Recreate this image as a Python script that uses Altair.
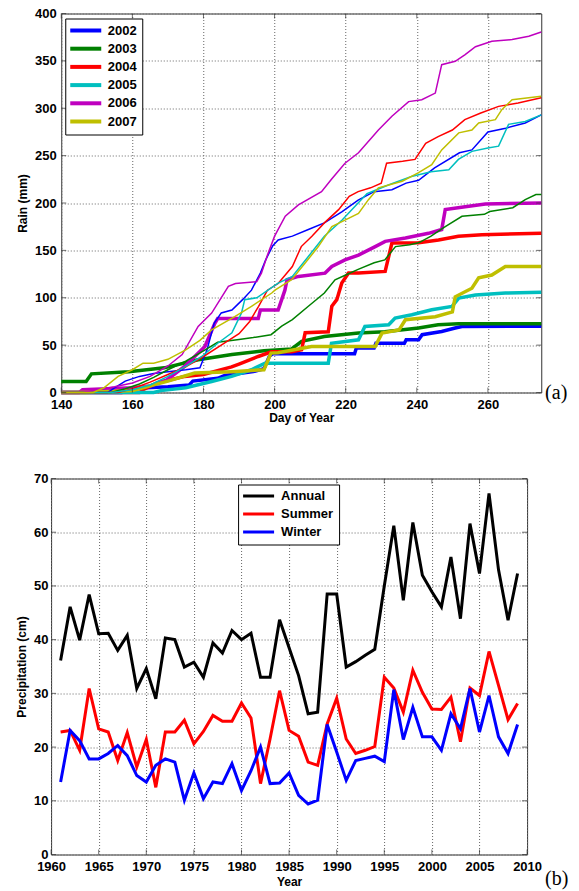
import altair as alt
import pandas as pd

# ---------------- panel (a): cumulative rain ----------------
YEARS = ["2002", "2003", "2004", "2005", "2006", "2007"]
COLORS = ["#0000FF", "#008000", "#FF0000", "#00BFBF", "#BF00BF", "#BFBF00"]
DAY_TICKS = [140, 160, 180, 200, 220, 240, 260]
RAIN_TICKS = [0, 50, 100, 150, 200, 250, 300, 350, 400]

THIN_2002 = [(140, 0), (153, 0), (155, 5), (158, 12), (162, 17), (166, 20), (170, 22), (175, 24),
             (179, 26), (181, 45), (183, 73), (185, 84), (188, 87), (191, 98), (193.5, 108), (196, 126),
             (197.5, 140), (199.5, 155), (201, 161), (205, 165), (209.5, 172), (214, 179), (219, 191),
             (223.5, 203), (228, 212), (233, 214), (237, 221), (240.5, 224), (245, 237), (252, 253),
             (255.5, 256), (260, 275), (265, 279), (270.5, 284.5), (275, 293)]
THIN_2003 = [(140, 0), (154, 0), (158, 4), (162, 9), (166, 16), (170, 24), (175, 33), (180, 44),
             (184, 53), (190, 56), (194, 58), (199, 61), (202, 70), (205, 77), (209.5, 91), (214, 105),
             (217, 119), (220, 124), (223.5, 130), (228, 137), (231, 140), (234, 154), (238, 156),
             (240.5, 158), (244, 165), (248, 175), (252.7, 186), (259, 188), (260.5, 191), (267, 195),
             (270.5, 203.5), (273.5, 209), (275, 209)]
THIN_2004 = [(140, 0), (156, 0), (160, 4), (165, 11), (170, 19), (175, 27), (180, 38), (185, 50),
             (190, 62), (193, 75), (195.5, 91), (198, 108), (201, 115), (205, 133), (207.5, 154),
             (210.5, 165), (214, 179), (218, 193), (221, 207), (223.5, 212), (227, 216), (230, 221),
             (231.5, 242), (236, 244), (239.5, 246), (242.5, 263), (246, 270), (250, 277), (253.5, 288),
             (258, 295), (263, 302), (268.5, 305.5), (275, 311)]
THIN_2005 = [(140, 0), (154, 0), (160, 3), (165, 8), (170, 17), (175, 27.5), (179.5, 38), (184, 52),
             (188, 63), (190.7, 84), (191.6, 98), (195, 100), (201, 115.5), (205, 122.5), (209.5, 143.6),
             (214, 165), (219, 182), (223.5, 200), (226, 210), (228, 213), (232, 219), (238.5, 228),
             (244, 233), (249, 235), (251.7, 246), (255.5, 254.5), (260, 258), (263, 260), (265.8, 283),
             (270.5, 286), (275, 293)]
THIN_2006 = [(140, 0), (146, 0), (150, 3), (155, 6), (160, 10), (165, 17), (170, 28), (174, 40),
             (178.5, 69.7), (182.3, 83.8), (187, 112), (189, 115), (195, 117), (196.3, 126), (198, 145),
             (200, 165), (203, 186), (206.7, 198), (213.2, 212), (216, 225), (219.8, 242), (223.6, 253),
             (229.2, 277), (233, 291.5), (237.7, 307), (241.4, 309), (245.2, 316), (247, 346),
             (250.8, 349.5), (253.6, 356.6), (256.5, 365), (261.1, 370.6), (266.8, 372.5), (271.5, 376),
             (275, 380.5)]
THIN_2007 = [(140, 0), (149, 0), (152, 5), (156, 17), (160, 24), (163, 31), (166, 31), (170, 35),
             (175, 45), (179, 55), (182.3, 66), (188.8, 80), (193.5, 91), (199.2, 105), (200.1, 108),
             (204.8, 119), (208.6, 136.6), (212.3, 154), (216.1, 175), (219.8, 182), (223.6, 189),
             (226.4, 203.5), (229.2, 216), (235.9, 223), (240.5, 232), (244.2, 240.4), (247, 256),
             (251.8, 274), (255.5, 277), (257.4, 284.5), (262.1, 288), (263.9, 298.5), (266.8, 309),
             (275, 312.6)]

THICK_2002 = [(140, 0), (157, 0), (158, 3), (164, 5), (170, 6), (176, 8), (177, 12), (184, 15),
              (186, 18), (190, 20), (194, 22), (197, 25), (198.5, 38), (199.5, 41), (222.5, 41),
              (223, 47), (228, 47), (228.5, 52), (236.5, 52), (237, 55.6), (240.5, 55.6), (241.5, 61),
              (247, 64.4), (250.8, 68), (252.7, 69.7), (275, 70)]
THICK_2003 = [(140, 11.6), (147, 11.6), (148.5, 19.7), (159, 22), (169, 26), (178.5, 34.5), (188, 40),
              (197, 44), (204.8, 46), (207.6, 54), (214, 59), (223.6, 62.7), (231, 64), (240.5, 68),
              (246, 71.5), (251.7, 72.5), (275, 72.5)]
THICK_2004 = [(140, 0), (162, 0), (163, 3), (167, 10), (174.7, 17), (180, 19), (187.9, 27), (190, 30),
              (195.4, 38), (199.1, 43), (204.8, 43), (207.6, 45), (208.6, 63), (215.1, 64), (216.1, 91),
              (217.5, 98), (218.9, 115.5), (220.8, 126), (223.6, 126), (231.1, 127.8), (233, 157.8),
              (240.5, 158), (246.1, 161), (251.7, 165), (258.3, 166.5), (275, 168)]
THICK_2005 = [(140, 0), (166, 0), (168, 2), (175, 5), (182.3, 11.6), (187.9, 17), (193.5, 24),
              (197.3, 31), (215.1, 31), (216, 52), (223.6, 55.6), (225.4, 69.7), (232.1, 71.5),
              (233.9, 78.6), (238.6, 82), (244.2, 87.3), (249.9, 90.8), (251.8, 99.7), (256.5, 103),
              (264.9, 105), (275, 105.7)]
THICK_2006 = [(140, 0), (145, 0), (146, 3), (160, 5), (165, 7), (169.6, 13), (174.7, 27.5),
              (180.4, 48.6), (183.2, 73), (184, 78), (195.4, 78), (196, 87), (201, 87), (202.9, 108),
              (203.5, 119), (206.7, 122.5), (214.2, 126), (216.1, 133), (219.8, 140), (223.6, 145),
              (228.3, 154), (231.1, 159.5), (236.8, 163), (243.3, 168), (247, 172), (248, 193),
              (253.6, 196), (259.3, 199), (275, 200)]
THICK_2007 = [(140, 0), (147, 0), (160, 2), (163, 5), (166, 8), (170, 12), (177.5, 20.5), (188, 22),
              (197, 24), (199, 41.6), (201, 42), (210.4, 48.6), (228.3, 48.6), (230.2, 62.7), (235, 66),
              (236.8, 76.8), (245.2, 80), (250, 85), (250.8, 101), (255.5, 110), (257.4, 121),
              (261.1, 124), (264.9, 133), (275, 133)]

THIN = [THIN_2002, THIN_2003, THIN_2004, THIN_2005, THIN_2006, THIN_2007]
THICK = [THICK_2002, THICK_2003, THICK_2004, THICK_2005, THICK_2006, THICK_2007]

# ---------------- panel (b): precipitation ----------------
PREC_YEARS = list(range(1961, 2010))
ANNUAL = [36.1, 46.1, 39.9, 48.4, 41.1, 41.2, 38.0, 40.8, 30.9, 34.6,
          29.0, 40.3, 40.0, 34.9, 35.8, 33.0, 39.4, 37.5, 41.7, 40.0,
          41.2, 33.0, 33.0, 43.7, 38.5, 33.3, 26.2, 26.5, 48.5, 48.5,
          34.9, 35.9, 37.1, 38.2, 50.0, 61.2, 47.3, 61.8, 52.0, 48.9,
          46.1, 55.4, 43.9, 61.6, 52.3, 67.2, 53.0, 43.6, 52.3]
SUMMER = [22.8, 23.1, 19.4, 30.9, 23.4, 22.8, 17.5, 22.7, 16.3, 21.4,
          12.5, 22.8, 22.8, 25.0, 20.6, 22.9, 25.9, 24.8, 24.8, 28.2,
          25.4, 13.2, 21.5, 30.5, 23.1, 22.0, 17.2, 16.6, 24.3, 29.1,
          21.5, 18.8, 19.4, 20.1, 33.0, 31.0, 26.5, 34.3, 30.2, 27.1,
          27.0, 29.3, 21.0, 31.0, 29.6, 37.8, 31.5, 25.1, 28.1]
WINTER = [13.5, 23.1, 21.2, 17.8, 17.8, 18.8, 20.3, 18.4, 14.7, 13.5,
          16.6, 17.8, 17.2, 10.1, 15.2, 10.4, 13.5, 13.2, 16.9, 11.9,
          15.6, 20.0, 13.2, 13.3, 15.2, 11.0, 9.4, 10.1, 24.2, 19.1,
          13.8, 17.5, 17.9, 18.3, 17.3, 30.7, 21.4, 27.4, 21.9, 21.9,
          19.4, 26.2, 23.4, 30.9, 22.8, 29.6, 21.9, 18.8, 24.2]
PREC_SERIES = ["Annual", "Summer", "Winter"]
PREC_COLORS = ["#000000", "#FF0000", "#0000FF"]
YEAR_TICKS = [1960, 1965, 1970, 1975, 1980, 1985, 1990, 1995, 2000, 2005, 2010]
PREC_TICKS = [0, 10, 20, 30, 40, 50, 60, 70]

FONT = "Liberation Sans"
FRAME = "#333333"
TICK_LEN = 5


def gauge_frame(series_list, gauge):
    rows = []
    for yr, pts in zip(YEARS, series_list):
        for d, v in pts:
            rows.append({"day": d, "mm": v, "year": yr, "gauge": gauge})
    return pd.DataFrame(rows)


top_df = pd.concat([gauge_frame(THICK, "thick"), gauge_frame(THIN, "thin")], ignore_index=True)

prec_rows = []
for name, vals in zip(PREC_SERIES, [ANNUAL, SUMMER, WINTER]):
    for y, v in zip(PREC_YEARS, vals):
        prec_rows.append({"Year": y, "cm": v, "series": name})
prec_df = pd.DataFrame(prec_rows)

axis_common = dict(grid=True, gridColor="#666666", gridDash=[1, 2], gridWidth=1, ticks=False,
                   domain=False, labelFont=FONT, labelFontSize=13, labelFontWeight="bold",
                   labelColor="black", labelFlush=False, titleFont=FONT, titleFontSize=12,
                   titleFontWeight="bold", titleColor="black")


def inner_ticks(xenc, yenc, xfield, yfield, xvals, yvals, W, H):
    """MATLAB-style inward ticks on all four sides of the frame."""
    xdf = pd.DataFrame({xfield: xvals})
    ydf = pd.DataFrame({yfield: yvals})
    layers = []
    for ypix in (TICK_LEN / 2, H - TICK_LEN / 2):
        layers.append(alt.Chart(xdf).mark_tick(orient="vertical", size=TICK_LEN, thickness=1,
                                               color=FRAME).encode(x=xenc, y=alt.value(ypix)))
    for xpix in (TICK_LEN / 2, W - TICK_LEN / 2):
        layers.append(alt.Chart(ydf).mark_tick(orient="horizontal", size=TICK_LEN, thickness=1,
                                               color=FRAME).encode(y=yenc, x=alt.value(xpix)))
    return layers


W1, H1 = 480, 379
W2, H2 = 476, 376

x1 = alt.X("day:Q", scale=alt.Scale(domain=[140, 275], nice=False, zero=False),
           axis=alt.Axis(values=DAY_TICKS, labelPadding=6, titlePadding=1, **axis_common),
           title="Day of Year")
y1 = alt.Y("mm:Q", scale=alt.Scale(domain=[0, 400], nice=False),
           axis=alt.Axis(values=RAIN_TICKS, labelPadding=5, titlePadding=5, **axis_common),
           title="Rain (mm)")
c1 = alt.Color("year:N", scale=alt.Scale(domain=YEARS, range=COLORS), title=None,
               legend=alt.Legend(orient="none", legendX=4, legendY=5, symbolType="M-3.1,0H3.1",
                                 symbolSize=100, symbolStrokeWidth=4, symbolOffset=8.5,
                                 labelOffset=15, labelFont=FONT, labelFontSize=13,
                                 labelFontWeight="bold", labelColor="black", strokeColor="black",
                                 fillColor="white", padding=5, rowPadding=2.2, cornerRadius=0))

base1 = alt.Chart(top_df)
thick = base1.transform_filter(alt.datum.gauge == "thick").mark_line(strokeWidth=3.5).encode(
    x=x1, y=y1, color=c1)
thin = base1.transform_filter(alt.datum.gauge == "thin").mark_line(strokeWidth=1.5).encode(
    x=x1, y=y1, color=c1)
# invisible layout spacer on the right of panel (a), used to offset panel (a) horizontally
spacer = alt.Chart(pd.DataFrame({"t": [0]})).mark_rule(opacity=0, strokeOpacity=0).encode(
    x=alt.value(W1 + 17), y=alt.value(0), y2=alt.value(2))
top = alt.layer(thick, thin, *inner_ticks(x1, y1, "day", "mm", DAY_TICKS, RAIN_TICKS, W1, H1),
                spacer).properties(width=W1, height=H1)

x2 = alt.X("Year:Q", scale=alt.Scale(domain=[1960, 2010], nice=False, zero=False),
           axis=alt.Axis(values=YEAR_TICKS, format="d", labelPadding=6, titlePadding=3, **axis_common),
           title="Year")
y2 = alt.Y("cm:Q", scale=alt.Scale(domain=[0, 70], nice=False),
           axis=alt.Axis(values=PREC_TICKS, labelPadding=3, titlePadding=5, **axis_common),
           title="Precipitation (cm)")
c2 = alt.Color("series:N", scale=alt.Scale(domain=PREC_SERIES, range=PREC_COLORS), title=None,
               legend=alt.Legend(orient="none", legendX=187, legendY=6, symbolType="M-3.1,0H3.1",
                                 symbolSize=100, symbolStrokeWidth=3, symbolOffset=9,
                                 labelOffset=16, labelFont=FONT, labelFontSize=13,
                                 labelFontWeight="bold", labelColor="black", strokeColor="black",
                                 fillColor="white", padding=5, rowPadding=4, cornerRadius=0))
lines2 = alt.Chart(prec_df).mark_line(strokeWidth=3).encode(x=x2, y=y2, color=c2)
panel_labels = alt.Chart(pd.DataFrame({"t": ["(a)", "(b)"], "dy": [-85.5, H2 + 24]})).mark_text(
    font="Liberation Serif", fontSize=20, align="left", baseline="middle", color="black").encode(
    text="t:N", x=alt.value(W2 + 18), y=alt.Y("dy:Q", scale=None))
bottom = alt.layer(*inner_ticks(x2, y2, "Year", "cm", YEAR_TICKS, PREC_TICKS, W2, H2),
                   lines2, panel_labels).properties(width=W2, height=H2)

chart = alt.concat(top, bottom, columns=1, center=True, spacing=-42).resolve_scale(
    color="independent").properties(
    padding={"left": 15, "top": 6.5, "right": 0, "bottom": 0}, background="white"
).configure_view(stroke=FRAME, strokeWidth=1)

chart.save("out.html", embed_options={"renderer": "svg", "actions": False})
